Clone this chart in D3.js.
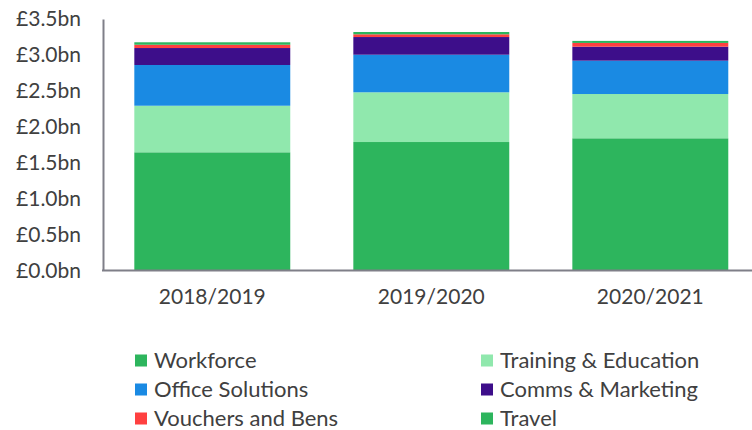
<!DOCTYPE html>
<html>
<head>
	<title>Spend by category</title>
	<script src="https://d3js.org/d3.v7.min.js"></script>
	<style>
	body{
		margin: 0;
		background: #ffffff;
	}
	#chart text{
		font-family: Lato, "Open Sans", sans-serif;
		fill: #404040;
	}
	</style>
</head>
<body>
	<div id="chart"></div>
	<script>
		// values in £bn
		var years = ["2018/2019", "2019/2020", "2020/2021"];
		var seriesNames = ["Workforce", "Training & Education", "Office Solutions", "Comms & Marketing", "Vouchers and Bens", "Travel"];
		var workforce = [1.645, 1.788, 1.840];
		var training = [0.648, 0.692, 0.616];
		var office = [0.567, 0.523, 0.464];
		var comms = [0.236, 0.246, 0.195];
		var vouchers = [0.046, 0.038, 0.052];
		var travel = [0.034, 0.032, 0.028];
		var colors = ["#2db55d", "#90e8ad", "#1a8ae3", "#3d0e8a", "#ff4040", "#2db55d"];
		var yTicks = [0, 0.5, 1.0, 1.5, 2.0, 2.5, 3.0, 3.5];

		var width = 752, height = 430;

		var svg = d3.select("#chart")
			.append("svg")
			.attr("width", width)
			.attr("height", height);

		var table = years.map(function(y, i){
			return {
				year: y,
				"Workforce": workforce[i],
				"Training & Education": training[i],
				"Office Solutions": office[i],
				"Comms & Marketing": comms[i],
				"Vouchers and Bens": vouchers[i],
				"Travel": travel[i]
			};
		});

		var stack = d3.stack().keys(seriesNames);
		var layers = stack(table);

		var x = d3.scaleBand()
			.domain(years)
			.range([103, 759.6])
			.paddingInner(0.288)
			.paddingOuter(0.143);

		var y = d3.scaleLinear()
			.domain([0, 3.5])
			.range([270.5, 19]);

		// bars
		svg.selectAll(".layer")
			.data(layers)
			.enter().append("g")
			.attr("class", "layer")
			.attr("fill", function(d, i){ return colors[i]; })
			.selectAll("rect")
			.data(function(d){ return d; })
			.enter().append("rect")
			.attr("x", function(d){ return x(d.data.year); })
			.attr("width", x.bandwidth())
			.attr("y", function(d){ return y(d[1]); })
			.attr("height", function(d){ return y(d[0]) - y(d[1]); });

		// y axis
		var yAxis = svg.append("g")
			.attr("transform", "translate(103,0)")
			.call(d3.axisLeft(y).tickValues(yTicks).tickSize(0).tickPadding(22)
				.tickFormat(function(d){ return "£" + d.toFixed(1) + "bn"; }));
		yAxis.select(".domain").attr("stroke", "#7f7f88").attr("stroke-width", 2);
		yAxis.selectAll("text").style("font-size", "21px");

		// x axis
		var xAxis = svg.append("g")
			.attr("transform", "translate(0,270.5)")
			.call(d3.axisBottom(x).tickSize(0).tickPadding(19));
		xAxis.select(".domain").remove();
		xAxis.selectAll("text").style("font-size", "21px");
		svg.append("line")
			.attr("x1", 102).attr("x2", width)
			.attr("y1", 270.5).attr("y2", 270.5)
			.attr("stroke", "#7f7f88")
			.attr("stroke-width", 2);

		// legend, two columns
		var legend = svg.selectAll(".legend")
			.data(seriesNames)
			.enter().append("g")
			.attr("class", "legend")
			.attr("transform", function(d, i){
				var col = i % 2, row = Math.floor(i / 2);
				return "translate(" + (col ? 481 : 135) + "," + (360.5 + row * 29) + ")";
			});

		legend.append("rect")
			.attr("x", 0).attr("y", -6)
			.attr("width", 12).attr("height", 12)
			.attr("fill", function(d, i){ return colors[i]; });

		legend.append("text")
			.attr("x", 19).attr("y", 0)
			.attr("dy", "0.35em")
			.style("font-size", "22px")
			.text(function(d){ return d; });
	</script>
</body>
</html>
